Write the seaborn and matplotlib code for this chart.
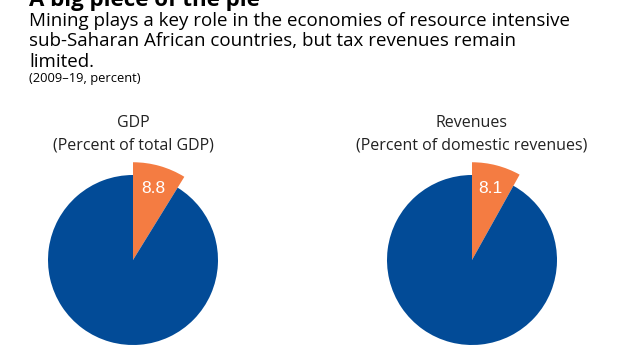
import matplotlib
matplotlib.use("Agg")
import matplotlib.pyplot as plt
import seaborn as sns

sns.set_theme(style="white")
plt.rcParams['font.family'] = ['Open Sans', 'DejaVu Sans']

# Data
panels = ["GDP", "Revenues"]
subtitles = ["(Percent of total GDP)", "(Percent of domestic revenues)"]
mining_share = [8.8, 8.1]
categories = ["Mining", "Other"]
colors = ["#F47C42", "#024B97"]

W, H = 620, 349
fig = plt.figure(figsize=(W / 100, H / 100), dpi=100)

centers_x = [133, 472]
center_y = 260
radius_px = 85
half = 1.2 * radius_px

for i, (name, sub, share) in enumerate(zip(panels, subtitles, mining_share)):
    cx = centers_x[i]
    ax = fig.add_axes([(cx - half) / W, (H - center_y - half) / H, 2 * half / W, 2 * half / H])
    vals = [share, 100 - share]
    wedges, texts, autotexts = ax.pie(
        vals, colors=colors, startangle=90, counterclock=False,
        autopct=lambda p, s=share: f"{s:.1f}" if abs(p - s) < 0.01 else "",
        pctdistance=0.87,
        textprops=dict(color="white", fontsize=12.5, family=["Liberation Sans"]),
        wedgeprops=dict(linewidth=0),
    )
    wedges[0].set_radius(1.15)
    ax.set_xlim(-1.2, 1.2)
    ax.set_ylim(-1.2, 1.2)
    ax.set_aspect("equal")
    ax.axis("off")
    fig.text(cx / W, 1 - 123 / H, name, ha="center", va="center", fontsize=11.5, color="#222222")
    fig.text(cx / W, 1 - 145 / H, sub, ha="center", va="center", fontsize=11.5, color="#222222")

fig.text(29 / W, 1 - 6 / H, "A big piece of the pie", ha="left", va="baseline",
         fontsize=16, fontweight="bold", color="black")
sub_lines = ["Mining plays a key role in the economies of resource intensive",
             "sub-Saharan African countries, but tax revenues remain",
             "limited."]
baselines = [26, 46.5, 67]
for line, yb in zip(sub_lines, baselines):
    fig.text(29 / W, 1 - yb / H, line, ha="left", va="baseline",
             fontsize=13.5, color="black")
fig.text(29 / W, 1 - 82 / H, "(2009\u201319, percent)", ha="left", va="baseline",
         fontsize=9.3, color="black")

fig.savefig("out.png", dpi=100, facecolor="white")
